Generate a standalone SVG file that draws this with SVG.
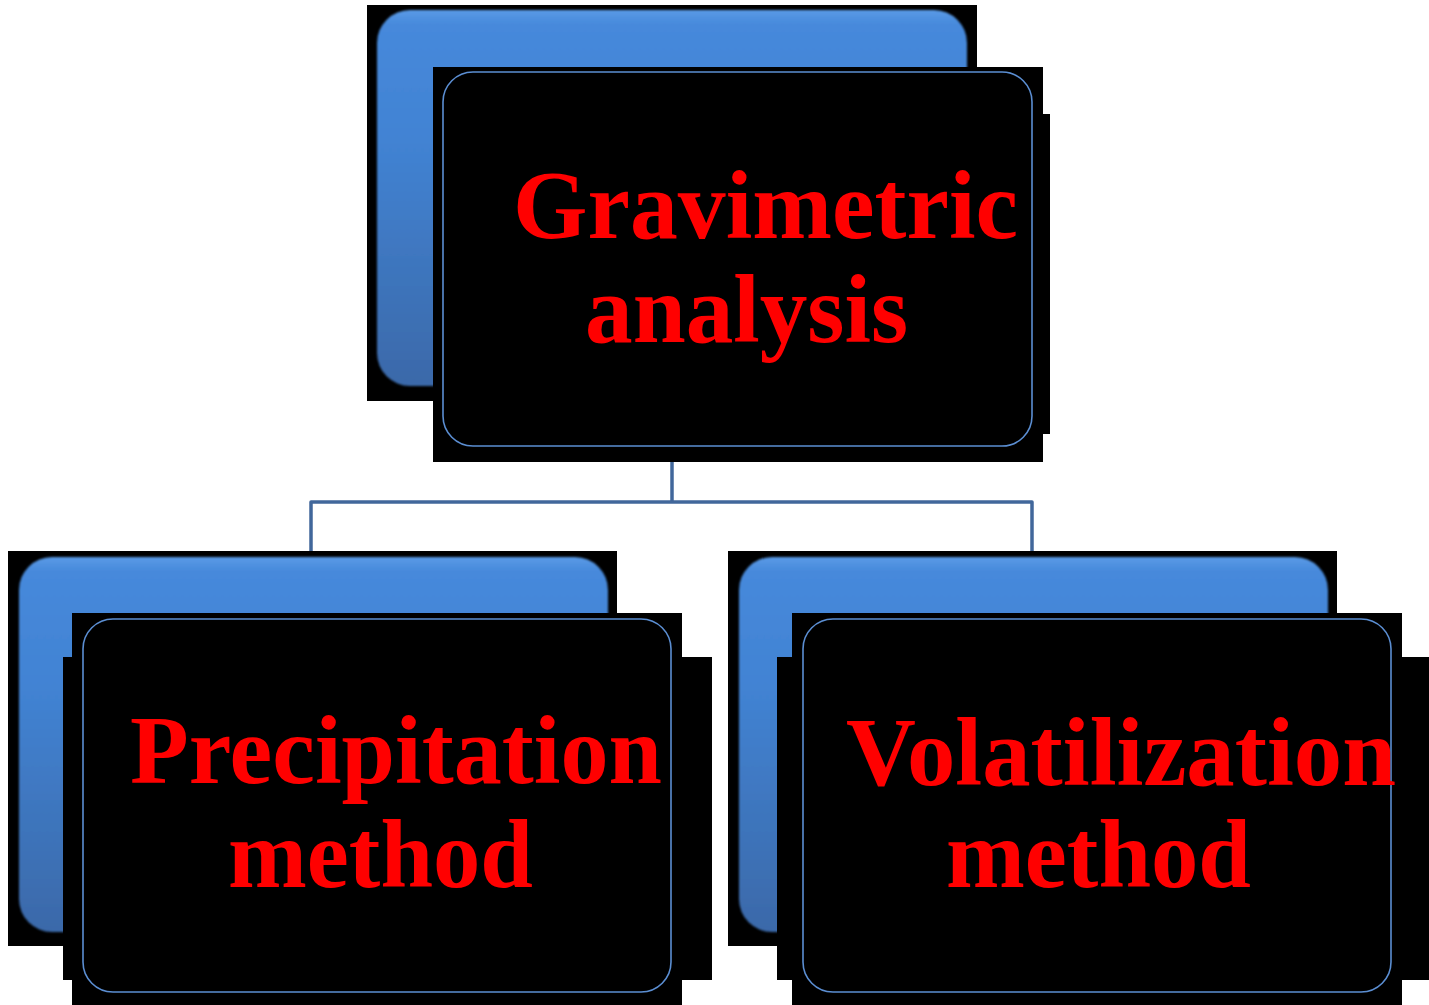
<svg xmlns="http://www.w3.org/2000/svg" width="1429" height="1005" viewBox="0 0 1429 1005">
  <defs>
    <linearGradient id="blueFill" x1="0" y1="0" x2="0" y2="1">
      <stop offset="0" stop-color="#5a9ae6"/>
      <stop offset="0.04" stop-color="#4689db"/>
      <stop offset="0.35" stop-color="#4283d3"/>
      <stop offset="1" stop-color="#3b69a9"/>
    </linearGradient>
    <filter id="soft" x="-5%" y="-5%" width="110%" height="110%">
      <feGaussianBlur stdDeviation="1.2"/>
    </filter>
    <style>
      .bg { fill: #000000; }
      .tab { fill: url(#blueFill); filter: url(#soft); }
      .card { fill: #000000; stroke: #5b8ed2; stroke-width: 1.6; }
      .label { font-family: "Liberation Serif", "Times New Roman", serif; font-weight: bold; font-size: 98px; fill: #ff0000; }
      .link { fill: none; stroke: #41679b; stroke-width: 3.5; stroke-linejoin: round; }
    </style>
  </defs>

  <rect width="1429" height="1005" fill="#ffffff"/>

  <!-- connectors: trunk from the root down to the two branches -->
  <g id="connectors">
    <path class="link" d="M672 462 V502"/>
    <path class="link" d="M311 551 V502 H1032 V551"/>
  </g>

  <!-- root node -->
  <g id="node-gravimetric">
    <rect class="bg" x="367" y="5" width="610" height="396"/>
    <rect class="tab" x="377" y="10" width="590" height="376" rx="33" ry="33"/>
    <rect class="bg" x="433" y="67" width="610" height="395"/>
    <rect class="bg" x="1040" y="114" width="10" height="320"/>
    <rect class="card" x="443" y="72" width="589" height="374" rx="30" ry="30"/>
    <text class="label" x="513" y="238" textLength="505" lengthAdjust="spacingAndGlyphs">Gravimetric</text>
    <text class="label" x="585" y="342" textLength="323" lengthAdjust="spacingAndGlyphs">analysis</text>
  </g>

  <!-- left branch -->
  <g id="node-precipitation">
    <rect class="bg" x="8" y="551" width="609" height="395"/>
    <rect class="tab" x="19" y="557" width="589" height="375" rx="33" ry="33"/>
    <rect class="bg" x="72" y="613" width="610" height="392"/>
    <rect class="bg" x="63" y="657" width="649" height="323"/>
    <rect class="card" x="83" y="619" width="588" height="373" rx="30" ry="30"/>
    <text class="label" x="130" y="783" textLength="532" lengthAdjust="spacingAndGlyphs">Precipitation</text>
    <text class="label" x="228" y="887" textLength="305" lengthAdjust="spacingAndGlyphs">method</text>
  </g>

  <!-- right branch -->
  <g id="node-volatilization">
    <rect class="bg" x="728" y="551" width="609" height="395"/>
    <rect class="tab" x="739" y="557" width="589" height="375" rx="33" ry="33"/>
    <rect class="bg" x="792" y="613" width="610" height="392"/>
    <rect class="bg" x="777" y="657" width="652" height="323"/>
    <rect class="card" x="803" y="619" width="588" height="373" rx="30" ry="30"/>
    <text class="label" x="846" y="785" textLength="550" lengthAdjust="spacingAndGlyphs">Volatilization</text>
    <text class="label" x="946" y="887" textLength="305" lengthAdjust="spacingAndGlyphs">method</text>
  </g>
</svg>
